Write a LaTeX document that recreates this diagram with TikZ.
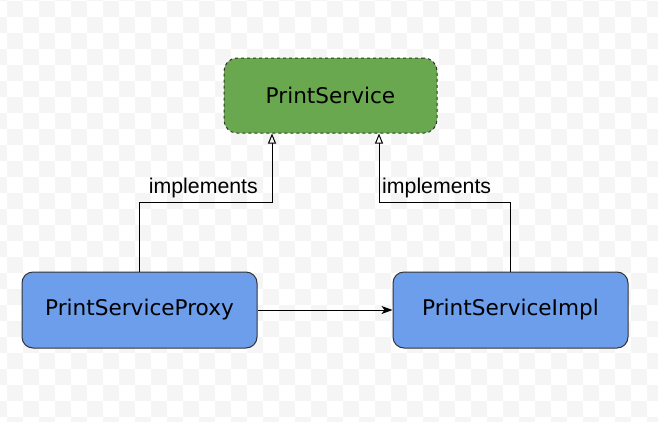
\documentclass[tikz,border=0pt]{standalone}
\usepackage{fontspec}
\setmainfont{DejaVu Sans}
\newfontfamily\lblfont{Liberation Sans}
\usetikzlibrary{arrows.meta}
\definecolor{chkgray}{HTML}{F5F5F5}
\definecolor{ifacegreen}{HTML}{6AA84F}
\definecolor{classblue}{HTML}{6D9EEB}
\definecolor{edgegray}{HTML}{333333}
\tikzset{
  classbox/.style={draw=edgegray, line width=1pt, rounded corners=11pt, minimum width=235pt, minimum height=76pt, inner sep=0pt, fill=classblue, font=\fontsize{21.6}{26}\selectfont},
  ifacebox/.style={classbox, fill=ifacegreen, dash pattern=on 3pt off 3pt, minimum width=213pt, minimum height=75pt, rounded corners=13pt},
  realize/.style={draw=black, line width=1pt, -{Triangle[open, length=10pt, width=8pt]}},
  uses/.style={draw=black, line width=1pt, -{Stealth[length=11pt, width=8pt, inset=3pt]}},
  lbl/.style={inner sep=0pt, font=\lblfont\fontsize{21.3}{25}\selectfont}
}
\begin{document}
\begin{tikzpicture}[x=1pt, y=-1pt]
  \useasboundingbox (0,0) rectangle (658,421);
  \begin{scope}
    \clip (0,0) rectangle (658,421);
    \foreach \r in {-1,...,26} {
      \pgfmathtruncatemacro{\off}{mod(\r+1,2)}
      \foreach \c in {-1,1,...,41} {
        \fill[chkgray] ({7+16*(\c+\off)},{1+16*\r}) rectangle ++(16,16);
      }
    }
  \end{scope}

  \node[ifacebox] (service) at (330.5,95.5) {PrintService};
  \node[classbox] (proxy) at (139.5,310) {PrintServiceProxy};
  \node[classbox] (impl) at (510.5,310) {PrintServiceImpl};

  \draw[realize] (proxy.north) -- ++(0,-69) -| ([xshift=-58.5pt]service.south);
  \draw[realize] (impl.north) -- ++(0,-69) -| ([xshift=48.5pt]service.south);
  \draw[uses] (proxy.east) -- (impl.west);

  \node[lbl, anchor=base east] (lblproxy) at (258,193) {implements};
  \node[lbl, anchor=base west] (lblimpl) at (382,193) {implements};
\end{tikzpicture}
\end{document}
